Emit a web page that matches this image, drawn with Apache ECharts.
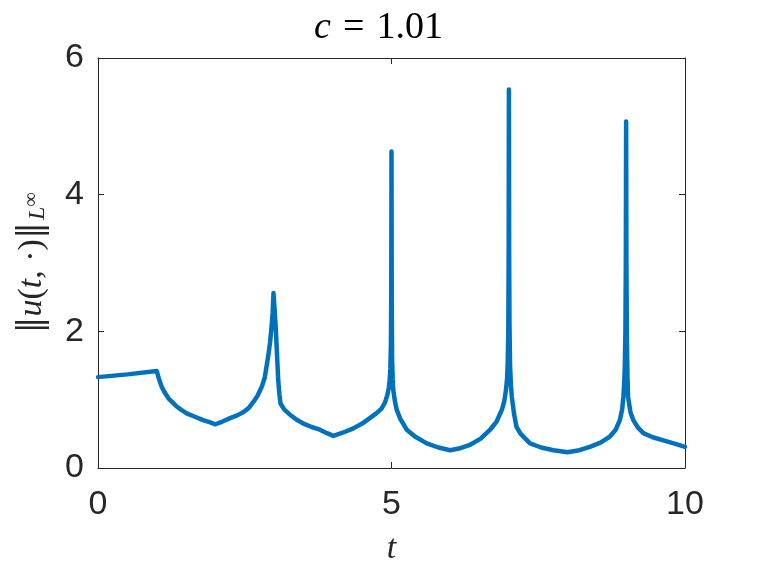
<!DOCTYPE html>
<html>
<head>
<meta charset="utf-8">
<script src="https://cdn.jsdelivr.net/npm/echarts@6/dist/echarts.min.js"></script>
<style>
  html, body { margin: 0; padding: 0; background: #fff; }
  #chart { width: 757px; height: 576px; }
</style>
</head>
<body>
<div id="chart"></div>
<script>
// t 值与对应的 ||u(t,.)||_{L^inf}
const tValues = [
  0, 0.5, 1.0, 1.04, 1.085, 1.14, 1.2, 1.27, 1.34, 1.42, 1.51, 1.65, 1.79, 1.9, 2.0,
  2.12, 2.25, 2.37, 2.48, 2.57, 2.65, 2.72, 2.79, 2.84, 2.87, 2.9, 2.93, 2.955, 2.975, 2.99,
  3.01, 3.03, 3.05, 3.07, 3.09, 3.11, 3.18, 3.27, 3.38, 3.5, 3.64, 3.78, 3.9, 4.01,
  4.18, 4.35, 4.5, 4.63, 4.74, 4.83, 4.89, 4.93, 4.955, 4.97, 4.98, 4.99, 4.996, 5.0,
  5.004, 5.01, 5.02, 5.03, 5.06, 5.09, 5.15, 5.26, 5.4, 5.6, 5.8, 6.0,
  6.17, 6.34, 6.52, 6.68, 6.79, 6.88, 6.92, 6.95, 6.97, 6.98, 6.99, 6.996, 7.0,
  7.004, 7.01, 7.02, 7.035, 7.05, 7.09, 7.13, 7.2, 7.36, 7.55, 7.76, 8.0,
  8.2, 8.38, 8.56, 8.72, 8.82, 8.89, 8.93, 8.95, 8.965, 8.975, 8.985, 8.992, 8.997,
  9.002, 9.01, 9.02, 9.03, 9.07, 9.12, 9.2, 9.29, 9.45, 9.69, 9.85, 10.0
];
const normValues = [
  1.33, 1.37, 1.42, 1.30, 1.19, 1.10, 1.02, 0.96, 0.90, 0.85, 0.80, 0.75, 0.70, 0.67, 0.64,
  0.68, 0.73, 0.77, 0.82, 0.88, 0.97, 1.06, 1.19, 1.32, 1.48, 1.64, 1.83, 2.05, 2.27, 2.56,
  2.30, 2.02, 1.65, 1.29, 1.08, 0.94, 0.85, 0.78, 0.71, 0.65, 0.60, 0.56, 0.51, 0.47,
  0.52, 0.58, 0.65, 0.73, 0.80, 0.87, 0.96, 1.07, 1.18, 1.29, 1.45, 1.8, 2.6, 4.63,
  2.6, 1.6, 1.3, 1.14, 0.97, 0.85, 0.72, 0.56, 0.46, 0.36, 0.30, 0.26,
  0.29, 0.34, 0.43, 0.56, 0.68, 0.85, 0.97, 1.14, 1.32, 1.54, 2.0, 3.2, 5.54,
  3.2, 2.1, 1.5, 1.2, 1.04, 0.78, 0.60, 0.50, 0.36, 0.30, 0.26, 0.23,
  0.26, 0.31, 0.37, 0.46, 0.56, 0.70, 0.86, 1.04, 1.25, 1.5, 2.0, 3.0, 5.07,
  3.0, 1.9, 1.35, 1.04, 0.82, 0.70, 0.59, 0.51, 0.45, 0.39, 0.35, 0.31
];
const xTicks = [0, 5, 10];
const yTicks = [0, 2, 4, 6];

const axisColor = '#262626';
const sans = 'Liberation Sans';
const serif = 'Liberation Serif';

const chart = echarts.init(document.getElementById('chart'), null, { renderer: 'canvas' });

// 边框轴（上/右）只画刻度
const frameAxis = {
  axisLine: { show: true, onZero: false, lineStyle: { color: axisColor, width: 1 } },
  axisTick: { show: true, inside: true, length: 6, lineStyle: { color: axisColor } },
  axisLabel: { show: false },
  splitLine: { show: false }
};

chart.setOption({
  animation: false,
  backgroundColor: '#fff',
  title: {
    text: '{i|c}{e|=}{n|1.01}',
    left: 'center',
    top: 4,
    textStyle: {
      rich: {
        i: { fontFamily: serif, fontStyle: 'italic', fontWeight: 'normal', fontSize: 38, color: '#000' },
        e: { fontFamily: serif, fontWeight: 'normal', fontSize: 38, color: '#000', padding: [0, 12, 0, 12] },
        n: { fontFamily: serif, fontWeight: 'normal', fontSize: 38, color: '#000' }
      }
    }
  },
  grid: { left: 98, top: 58, right: 72, bottom: 108, containLabel: false },
  xAxis: [{
    type: 'value',
    min: 0, max: 10, interval: 5,
    name: 't',
    nameLocation: 'middle',
    nameGap: 64,
    nameTextStyle: { fontFamily: serif, fontStyle: 'italic', fontSize: 34, color: axisColor },
    axisLine: { show: true, onZero: false, lineStyle: { color: axisColor, width: 1 } },
    axisTick: { show: true, inside: true, length: 6, lineStyle: { color: axisColor } },
    axisLabel: {
      margin: 20, fontFamily: sans, fontSize: 34, color: axisColor,
      formatter: v => xTicks.includes(v) ? String(v) : ''
    },
    splitLine: { show: false }
  }, Object.assign({ type: 'value', position: 'top', min: 0, max: 10, interval: 5 }, frameAxis)],
  yAxis: [{
    type: 'value',
    min: 0, max: 6, interval: 2,
    name: '{bar|‖}{i|u}{n|(}{i|t}{n|, ·)}{bar|‖}{sub|L}{sup|∞}',
    nameLocation: 'middle',
    nameGap: 44,
    nameRotate: 90,
    nameTextStyle: {
      rich: {
        bar: { fontFamily: 'DejaVu Serif', fontSize: 34, color: axisColor, lineHeight: 44 },
        n: { fontFamily: serif, fontSize: 34, color: axisColor, lineHeight: 44 },
        i: { fontFamily: serif, fontStyle: 'italic', fontSize: 34, color: axisColor, lineHeight: 44 },
        sub: { fontFamily: serif, fontStyle: 'italic', fontSize: 24, color: axisColor, verticalAlign: 'bottom', lineHeight: 24, padding: [0, 0, 4, 2] },
        sup: { fontFamily: serif, fontSize: 20, color: axisColor, verticalAlign: 'bottom', lineHeight: 20, padding: [0, 0, 12, 0] }
      }
    },
    axisLine: { show: true, onZero: false, lineStyle: { color: axisColor, width: 1 } },
    axisTick: { show: true, inside: true, length: 6, lineStyle: { color: axisColor } },
    axisLabel: {
      margin: 14, fontFamily: sans, fontSize: 34, color: axisColor,
      formatter: v => yTicks.includes(v) ? String(v) : ''
    },
    splitLine: { show: false }
  }, Object.assign({ type: 'value', position: 'right', min: 0, max: 6, interval: 2 }, frameAxis)],
  series: [{
    type: 'line',
    data: tValues.map((t, i) => [t, normValues[i]]),
    showSymbol: false,
    smooth: false,
    lineStyle: { color: '#0072BD', width: 4.5, join: 'round', cap: 'round' },
    itemStyle: { color: '#0072BD' }
  }]
});
</script>
</body>
</html>
